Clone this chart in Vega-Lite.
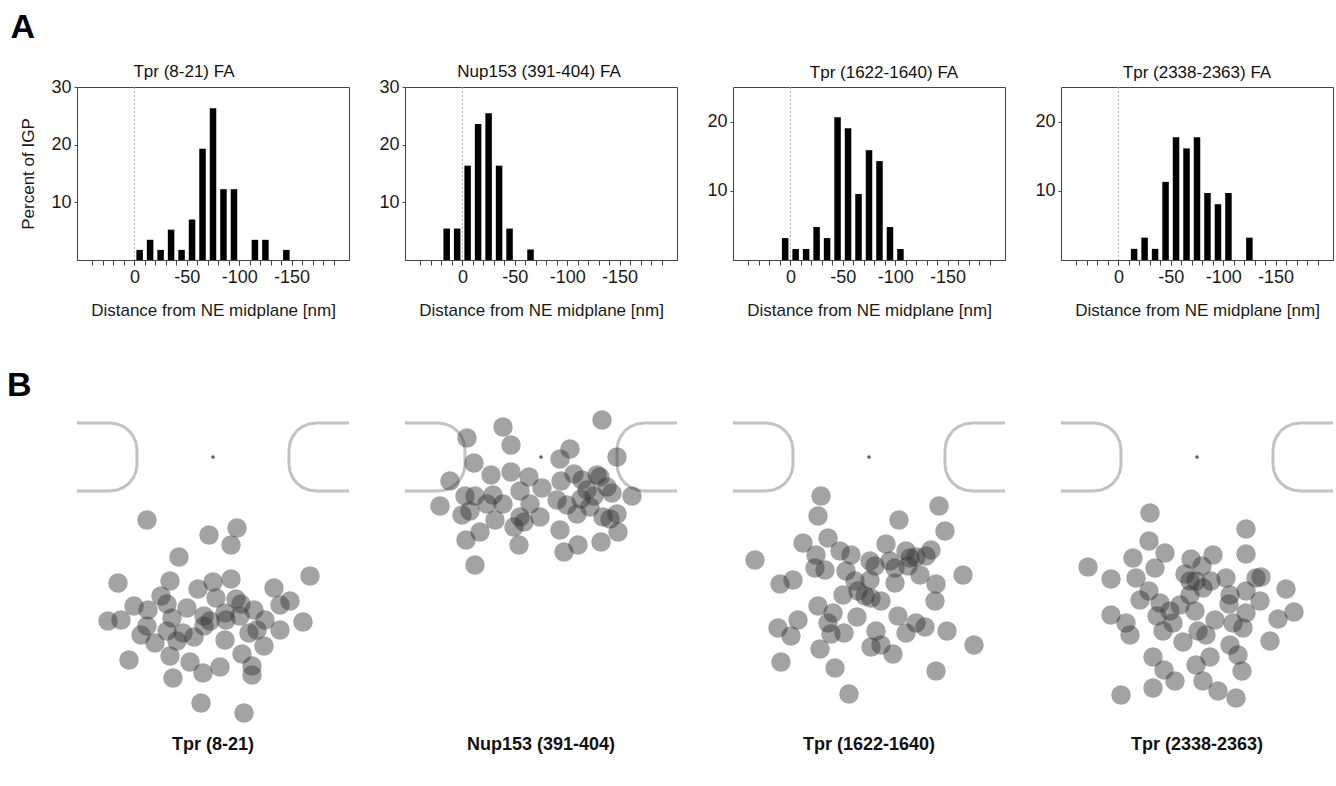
{
  "$schema": "https://vega.github.io/schema/vega-lite/v6.json",
  "padding": {"left": 7, "top": 10, "right": 0, "bottom": 0},
  "background": "white",
  "config": {
    "font": "Liberation Sans",
    "view": {"stroke": "#444", "strokeWidth": 1},
    "axis": {"grid": false, "labelFont": "Liberation Sans", "titleFont": "Liberation Sans", "labelColor": "#1a1a1a", "titleColor": "#1a1a1a", "titleFontWeight": "normal"},
    "axisX": {"labelFontSize": 18, "tickSize": 5, "labelPadding": 3, "titleFontSize": 17, "titlePadding": 16, "domainColor": "#444", "tickColor": "#444", "labelOverlap": false, "labelFlush": false},
    "axisY": {"labelFontSize": 18, "tickSize": 3, "labelPadding": 3, "domain": false, "titleFontSize": 17, "titlePadding": 12, "minExtent": 28, "maxExtent": 28, "tickColor": "#444"},
    "title": {"font": "Liberation Sans", "fontWeight": "normal", "color": "#111", "fontSize": 17}
  },
  "datasets": {
    "hist": [
      {"p": 1, "d": -5, "pct": 1.75}, {"p": 1, "d": -15, "pct": 3.5}, {"p": 1, "d": -25, "pct": 1.75}, {"p": 1, "d": -35, "pct": 5.26},
      {"p": 1, "d": -45, "pct": 1.75}, {"p": 1, "d": -55, "pct": 7.02}, {"p": 1, "d": -65, "pct": 19.3}, {"p": 1, "d": -75, "pct": 26.3},
      {"p": 1, "d": -85, "pct": 12.28}, {"p": 1, "d": -95, "pct": 12.28}, {"p": 1, "d": -115, "pct": 3.5}, {"p": 1, "d": -125, "pct": 3.5},
      {"p": 1, "d": -145, "pct": 1.75},
      {"p": 2, "d": 15, "pct": 5.45}, {"p": 2, "d": 5, "pct": 5.45}, {"p": 2, "d": -5, "pct": 16.36}, {"p": 2, "d": -15, "pct": 23.6},
      {"p": 2, "d": -25, "pct": 25.45}, {"p": 2, "d": -35, "pct": 16.36}, {"p": 2, "d": -45, "pct": 5.45}, {"p": 2, "d": -65, "pct": 1.82},
      {"p": 3, "d": 5, "pct": 3.17}, {"p": 3, "d": -5, "pct": 1.59}, {"p": 3, "d": -15, "pct": 1.59}, {"p": 3, "d": -25, "pct": 4.76},
      {"p": 3, "d": -35, "pct": 3.17}, {"p": 3, "d": -45, "pct": 20.63}, {"p": 3, "d": -55, "pct": 19.05}, {"p": 3, "d": -65, "pct": 9.52},
      {"p": 3, "d": -75, "pct": 15.87}, {"p": 3, "d": -85, "pct": 14.29}, {"p": 3, "d": -95, "pct": 4.76}, {"p": 3, "d": -105, "pct": 1.59},
      {"p": 4, "d": -15, "pct": 1.61}, {"p": 4, "d": -25, "pct": 3.23}, {"p": 4, "d": -35, "pct": 1.61}, {"p": 4, "d": -45, "pct": 11.29},
      {"p": 4, "d": -55, "pct": 17.74}, {"p": 4, "d": -65, "pct": 16.13}, {"p": 4, "d": -75, "pct": 17.74}, {"p": 4, "d": -85, "pct": 9.68},
      {"p": 4, "d": -95, "pct": 8.06}, {"p": 4, "d": -105, "pct": 9.68}, {"p": 4, "d": -125, "pct": 3.23}
    ],
    "zero": [{"x": 0}],
    "center": [{"x": 0, "y": 0}],
    "pore": [
      {"side": "L", "i": 0, "x": -136, "y": 34}, {"side": "L", "i": 1, "x": -103, "y": 34}, {"side": "L", "i": 2, "x": -96, "y": 33.1},
      {"side": "L", "i": 3, "x": -89.5, "y": 30.4}, {"side": "L", "i": 4, "x": -83.9, "y": 26.1}, {"side": "L", "i": 5, "x": -79.6, "y": 20.5},
      {"side": "L", "i": 6, "x": -76.9, "y": 14}, {"side": "L", "i": 7, "x": -76, "y": 7}, {"side": "L", "i": 8, "x": -76, "y": -7},
      {"side": "L", "i": 9, "x": -76.9, "y": -14}, {"side": "L", "i": 10, "x": -79.6, "y": -20.5}, {"side": "L", "i": 11, "x": -83.9, "y": -26.1},
      {"side": "L", "i": 12, "x": -89.5, "y": -30.4}, {"side": "L", "i": 13, "x": -96, "y": -33.1}, {"side": "L", "i": 14, "x": -103, "y": -34},
      {"side": "L", "i": 15, "x": -136, "y": -34},
      {"side": "R", "i": 0, "x": 136, "y": 34}, {"side": "R", "i": 1, "x": 103, "y": 34}, {"side": "R", "i": 2, "x": 96, "y": 33.1},
      {"side": "R", "i": 3, "x": 89.5, "y": 30.4}, {"side": "R", "i": 4, "x": 83.9, "y": 26.1}, {"side": "R", "i": 5, "x": 79.6, "y": 20.5},
      {"side": "R", "i": 6, "x": 76.9, "y": 14}, {"side": "R", "i": 7, "x": 76, "y": 7}, {"side": "R", "i": 8, "x": 76, "y": -7},
      {"side": "R", "i": 9, "x": 76.9, "y": -14}, {"side": "R", "i": 10, "x": 79.6, "y": -20.5}, {"side": "R", "i": 11, "x": 83.9, "y": -26.1},
      {"side": "R", "i": 12, "x": 89.5, "y": -30.4}, {"side": "R", "i": 13, "x": 96, "y": -33.1}, {"side": "R", "i": 14, "x": 103, "y": -34},
      {"side": "R", "i": 15, "x": 136, "y": -34}
    ],
    "pts": [
      {"p": 1, "x": -66, "y": -63}, {"p": 1, "x": -4, "y": -78}, {"p": 1, "x": 24, "y": -71}, {"p": 1, "x": 18, "y": -88},
      {"p": 1, "x": -34, "y": -100}, {"p": 1, "x": -95, "y": -126}, {"p": 1, "x": 97, "y": -119}, {"p": 1, "x": -43, "y": -124},
      {"p": 1, "x": -15, "y": -132}, {"p": 1, "x": 0, "y": -125}, {"p": 1, "x": 18, "y": -122}, {"p": 1, "x": 61, "y": -131},
      {"p": 1, "x": -52, "y": -139}, {"p": 1, "x": 3, "y": -141}, {"p": 1, "x": 23, "y": -142}, {"p": 1, "x": -79, "y": -149},
      {"p": 1, "x": -65, "y": -153}, {"p": 1, "x": -46, "y": -147}, {"p": 1, "x": -26, "y": -151}, {"p": 1, "x": 28, "y": -147},
      {"p": 1, "x": 41, "y": -153}, {"p": 1, "x": 67, "y": -148}, {"p": 1, "x": 77, "y": -144}, {"p": 1, "x": -105, "y": -164},
      {"p": 1, "x": -92, "y": -163}, {"p": 1, "x": -41, "y": -161}, {"p": 1, "x": -9, "y": -159}, {"p": 1, "x": 13, "y": -163},
      {"p": 1, "x": 52, "y": -163}, {"p": 1, "x": 90, "y": -165}, {"p": 1, "x": -72, "y": -178}, {"p": 1, "x": -46, "y": -174},
      {"p": 1, "x": -19, "y": -180}, {"p": 1, "x": 12, "y": -183}, {"p": 1, "x": 36, "y": -176}, {"p": 1, "x": 67, "y": -173},
      {"p": 1, "x": -9, "y": -169}, {"p": 1, "x": -58, "y": -186}, {"p": 1, "x": -36, "y": -184}, {"p": 1, "x": 51, "y": -189},
      {"p": 1, "x": -84, "y": -203}, {"p": 1, "x": -43, "y": -199}, {"p": 1, "x": -23, "y": -205}, {"p": 1, "x": 29, "y": -197},
      {"p": 1, "x": 7, "y": -210}, {"p": 1, "x": -10, "y": -216}, {"p": 1, "x": 39, "y": -209}, {"p": 1, "x": 39, "y": -218},
      {"p": 1, "x": -40, "y": -221}, {"p": 1, "x": -12, "y": -246}, {"p": 1, "x": 31, "y": -256}, {"p": 1, "x": 12, "y": -156},
      {"p": 1, "x": -30, "y": -176}, {"p": 1, "x": -66, "y": -169}, {"p": 1, "x": -3, "y": -164}, {"p": 1, "x": 44, "y": -173},
      {"p": 1, "x": 27, "y": -159},
      {"p": 2, "x": 61, "y": 37}, {"p": 2, "x": -38, "y": 30}, {"p": 2, "x": -30, "y": 12}, {"p": 2, "x": -74, "y": 19},
      {"p": 2, "x": -67, "y": -6}, {"p": 2, "x": 29, "y": 8}, {"p": 2, "x": 19, "y": -2}, {"p": 2, "x": 76, "y": 0},
      {"p": 2, "x": -91, "y": -24}, {"p": 2, "x": -50, "y": -18}, {"p": 2, "x": -30, "y": -15}, {"p": 2, "x": -12, "y": -20},
      {"p": 2, "x": 33, "y": -17}, {"p": 2, "x": 20, "y": -24}, {"p": 2, "x": 56, "y": -18}, {"p": 2, "x": 41, "y": -23},
      {"p": 2, "x": 59, "y": -20}, {"p": 2, "x": 1, "y": -31}, {"p": 2, "x": -21, "y": -34}, {"p": 2, "x": -48, "y": -38},
      {"p": 2, "x": -66, "y": -39}, {"p": 2, "x": -76, "y": -39}, {"p": 2, "x": -101, "y": -49}, {"p": 2, "x": 16, "y": -43},
      {"p": 2, "x": 40, "y": -42}, {"p": 2, "x": 53, "y": -39}, {"p": 2, "x": 71, "y": -36}, {"p": 2, "x": 91, "y": -39},
      {"p": 2, "x": -38, "y": -47}, {"p": 2, "x": -79, "y": -58}, {"p": 2, "x": -71, "y": -54}, {"p": 2, "x": -46, "y": -63},
      {"p": 2, "x": -21, "y": -60}, {"p": 2, "x": -1, "y": -60}, {"p": 2, "x": 36, "y": -57}, {"p": 2, "x": 49, "y": -50},
      {"p": 2, "x": 62, "y": -60}, {"p": 2, "x": 76, "y": -57}, {"p": 2, "x": -27, "y": -70}, {"p": 2, "x": -17, "y": -65},
      {"p": 2, "x": -61, "y": -75}, {"p": 2, "x": -75, "y": -83}, {"p": 2, "x": 19, "y": -73}, {"p": 2, "x": -22, "y": -88},
      {"p": 2, "x": 37, "y": -88}, {"p": 2, "x": 23, "y": -95}, {"p": 2, "x": 60, "y": -85}, {"p": 2, "x": 77, "y": -75},
      {"p": 2, "x": -66, "y": -108}, {"p": 2, "x": 69, "y": -62}, {"p": 2, "x": -54, "y": -47}, {"p": 2, "x": 46, "y": -33},
      {"p": 2, "x": 66, "y": -30}, {"p": 2, "x": 26, "y": -48}, {"p": 2, "x": -11, "y": -47},
      {"p": 3, "x": -48, "y": -39}, {"p": 3, "x": -51, "y": -59}, {"p": 3, "x": 70, "y": -49}, {"p": 3, "x": 30, "y": -63},
      {"p": 3, "x": 76, "y": -74}, {"p": 3, "x": -114, "y": -103}, {"p": 3, "x": -66, "y": -86}, {"p": 3, "x": -41, "y": -81},
      {"p": 3, "x": -53, "y": -98}, {"p": 3, "x": -29, "y": -94}, {"p": 3, "x": -18, "y": -98}, {"p": 3, "x": 1, "y": -104},
      {"p": 3, "x": 17, "y": -87}, {"p": 3, "x": 37, "y": -94}, {"p": 3, "x": 47, "y": -100}, {"p": 3, "x": 62, "y": -93},
      {"p": 3, "x": 57, "y": -99}, {"p": 3, "x": 94, "y": -118}, {"p": 3, "x": -54, "y": -111}, {"p": 3, "x": -44, "y": -113},
      {"p": 3, "x": -23, "y": -114}, {"p": 3, "x": 6, "y": -109}, {"p": 3, "x": 26, "y": -111}, {"p": 3, "x": 39, "y": -109},
      {"p": 3, "x": 51, "y": -118}, {"p": 3, "x": -89, "y": -127}, {"p": 3, "x": -76, "y": -123}, {"p": 3, "x": -14, "y": -124},
      {"p": 3, "x": 1, "y": -123}, {"p": 3, "x": 26, "y": -126}, {"p": 3, "x": 67, "y": -127}, {"p": 3, "x": -26, "y": -138},
      {"p": 3, "x": -4, "y": -139}, {"p": 3, "x": 12, "y": -144}, {"p": 3, "x": 66, "y": -144}, {"p": 3, "x": -51, "y": -149},
      {"p": 3, "x": -36, "y": -156}, {"p": 3, "x": -12, "y": -160}, {"p": 3, "x": 29, "y": -159}, {"p": 3, "x": 47, "y": -166},
      {"p": 3, "x": 56, "y": -170}, {"p": 3, "x": -71, "y": -163}, {"p": 3, "x": -91, "y": -171}, {"p": 3, "x": -78, "y": -179},
      {"p": 3, "x": -41, "y": -166}, {"p": 3, "x": -38, "y": -177}, {"p": 3, "x": -25, "y": -176}, {"p": 3, "x": 7, "y": -174},
      {"p": 3, "x": 37, "y": -176}, {"p": 3, "x": 78, "y": -174}, {"p": 3, "x": -49, "y": -192}, {"p": 3, "x": 2, "y": -190},
      {"p": 3, "x": 12, "y": -188}, {"p": 3, "x": 24, "y": -197}, {"p": 3, "x": 105, "y": -188}, {"p": 3, "x": -88, "y": -205},
      {"p": 3, "x": -34, "y": -211}, {"p": 3, "x": 67, "y": -214}, {"p": 3, "x": -20, "y": -237}, {"p": 3, "x": 2, "y": -141},
      {"p": 3, "x": 41, "y": -101}, {"p": 3, "x": 21, "y": -104}, {"p": 3, "x": -11, "y": -134},
      {"p": 4, "x": -47, "y": -56}, {"p": 4, "x": 49, "y": -72}, {"p": 4, "x": -48, "y": -84}, {"p": 4, "x": -32, "y": -96},
      {"p": 4, "x": -64, "y": -101}, {"p": 4, "x": 16, "y": -98}, {"p": 4, "x": 49, "y": -97}, {"p": 4, "x": -109, "y": -110},
      {"p": 4, "x": -86, "y": -122}, {"p": 4, "x": -42, "y": -111}, {"p": 4, "x": -61, "y": -121}, {"p": 4, "x": -6, "y": -102},
      {"p": 4, "x": -12, "y": -117}, {"p": 4, "x": 5, "y": -109}, {"p": 4, "x": -1, "y": -124}, {"p": 4, "x": 14, "y": -124},
      {"p": 4, "x": 6, "y": -131}, {"p": 4, "x": 29, "y": -121}, {"p": 4, "x": 64, "y": -120}, {"p": 4, "x": 89, "y": -132},
      {"p": 4, "x": -48, "y": -134}, {"p": 4, "x": -57, "y": -143}, {"p": 4, "x": -7, "y": -138}, {"p": 4, "x": 49, "y": -134},
      {"p": 4, "x": 63, "y": -144}, {"p": 4, "x": 32, "y": -147}, {"p": 4, "x": 49, "y": -156}, {"p": 4, "x": -27, "y": -154},
      {"p": 4, "x": -40, "y": -159}, {"p": 4, "x": -17, "y": -148}, {"p": 4, "x": -2, "y": -154}, {"p": 4, "x": -86, "y": -158},
      {"p": 4, "x": -71, "y": -166}, {"p": 4, "x": 81, "y": -162}, {"p": 4, "x": 97, "y": -155}, {"p": 4, "x": -24, "y": -166},
      {"p": 4, "x": -34, "y": -174}, {"p": 4, "x": -67, "y": -178}, {"p": 4, "x": 18, "y": -163}, {"p": 4, "x": 36, "y": -166},
      {"p": 4, "x": 46, "y": -171}, {"p": 4, "x": 1, "y": -174}, {"p": 4, "x": 9, "y": -178}, {"p": 4, "x": -14, "y": -185},
      {"p": 4, "x": 73, "y": -184}, {"p": 4, "x": 33, "y": -188}, {"p": 4, "x": -44, "y": -200}, {"p": 4, "x": 13, "y": -200},
      {"p": 4, "x": -1, "y": -208}, {"p": 4, "x": 41, "y": -198}, {"p": 4, "x": -33, "y": -213}, {"p": 4, "x": 45, "y": -214},
      {"p": 4, "x": -22, "y": -224}, {"p": 4, "x": 6, "y": -224}, {"p": 4, "x": -44, "y": -231}, {"p": 4, "x": 21, "y": -234},
      {"p": 4, "x": 39, "y": -241}, {"p": 4, "x": -76, "y": -238}, {"p": 4, "x": -7, "y": -124}, {"p": 4, "x": -37, "y": -146},
      {"p": 4, "x": 33, "y": -138}, {"p": 4, "x": 59, "y": -121}
    ]
  },
  "spacing": 50,
  "vconcat": [
    {
      "title": {"text": "A", "anchor": "start", "fontSize": 34, "fontWeight": "bold", "color": "#000", "offset": 18, "dx": -8},
      "spacing": 26,
      "hconcat": [
        {
          "width": 272, "height": 173,
          "title": {"text": "Tpr (8-21) FA", "frame": "bounds", "offset": -3},
          "resolve": {"axis": {"x": "independent"}},
          "layer": [
            {"data": {"name": "zero"}, "mark": {"type": "rule", "color": "#aaa", "strokeDash": [2, 2], "strokeWidth": 1},
             "encoding": {"x": {"field": "x", "type": "quantitative",
               "axis": {"orient": "bottom", "title": null, "labels": false, "values": [-190,-180,-170,-160,-150,-140,-130,-120,-110,-100,-90,-80,-70,-60,-50,-40,-30,-20,-10,0,10,20,30,40]}}}},
            {"data": {"name": "hist"}, "transform": [{"filter": "datum.p == 1"}],
             "mark": {"type": "bar", "color": "#000", "size": 6.5},
             "encoding": {
               "x": {"field": "d", "type": "quantitative", "scale": {"domain": [-200, 50], "reverse": true, "nice": false, "zero": false},
                     "axis": {"orient": "bottom", "title": "Distance from NE midplane [nm]", "domain": false, "values": [-150, -100, -50, 0], "labelExpr": "'' + datum.value"}},
               "y": {"field": "pct", "type": "quantitative", "scale": {"domain": [0, 30], "nice": false},
                     "axis": {"title": "Percent of IGP", "values": [10, 20, 30]}}
             }}
          ]
        },
        {
          "width": 272, "height": 173,
          "title": {"text": "Nup153 (391-404) FA", "offset": -3, "dx": -2},
          "resolve": {"axis": {"x": "independent"}},
          "layer": [
            {"data": {"name": "zero"}, "mark": {"type": "rule", "color": "#aaa", "strokeDash": [2, 2], "strokeWidth": 1},
             "encoding": {"x": {"field": "x", "type": "quantitative",
               "axis": {"orient": "bottom", "title": null, "labels": false, "values": [-190,-180,-170,-160,-150,-140,-130,-120,-110,-100,-90,-80,-70,-60,-50,-40,-30,-20,-10,0,10,20,30,40]}}}},
            {"data": {"name": "hist"}, "transform": [{"filter": "datum.p == 2"}],
             "mark": {"type": "bar", "color": "#000", "size": 6.5},
             "encoding": {
               "x": {"field": "d", "type": "quantitative", "scale": {"domain": [-200, 50], "reverse": true, "nice": false, "zero": false},
                     "axis": {"orient": "bottom", "title": "Distance from NE midplane [nm]", "domain": false, "values": [-150, -100, -50, 0], "labelExpr": "'' + datum.value"}},
               "y": {"field": "pct", "type": "quantitative", "scale": {"domain": [0, 30], "nice": false},
                     "axis": {"title": null, "values": [10, 20, 30]}}
             }}
          ]
        },
        {
          "width": 272, "height": 173,
          "title": {"text": "Tpr (1622-1640) FA", "offset": 5, "dx": 15},
          "resolve": {"axis": {"x": "independent"}},
          "layer": [
            {"data": {"name": "zero"}, "mark": {"type": "rule", "color": "#aaa", "strokeDash": [2, 2], "strokeWidth": 1},
             "encoding": {"x": {"field": "x", "type": "quantitative",
               "axis": {"orient": "bottom", "title": null, "labels": false, "values": [-190,-180,-170,-160,-150,-140,-130,-120,-110,-100,-90,-80,-70,-60,-50,-40,-30,-20,-10,0,10,20,30,40]}}}},
            {"data": {"name": "hist"}, "transform": [{"filter": "datum.p == 3"}],
             "mark": {"type": "bar", "color": "#000", "size": 6.5},
             "encoding": {
               "x": {"field": "d", "type": "quantitative", "scale": {"domain": [-200, 50], "reverse": true, "nice": false, "zero": false},
                     "axis": {"orient": "bottom", "title": "Distance from NE midplane [nm]", "domain": false, "values": [-150, -100, -50, 0], "labelExpr": "'' + datum.value"}},
               "y": {"field": "pct", "type": "quantitative", "scale": {"domain": [0, 25], "nice": false},
                     "axis": {"title": null, "values": [10, 20]}}
             }}
          ]
        },
        {
          "width": 272, "height": 173,
          "title": {"text": "Tpr (2338-2363) FA", "offset": 5},
          "resolve": {"axis": {"x": "independent"}},
          "layer": [
            {"data": {"name": "zero"}, "mark": {"type": "rule", "color": "#aaa", "strokeDash": [2, 2], "strokeWidth": 1},
             "encoding": {"x": {"field": "x", "type": "quantitative",
               "axis": {"orient": "bottom", "title": null, "labels": false, "values": [-190,-180,-170,-160,-150,-140,-130,-120,-110,-100,-90,-80,-70,-60,-50,-40,-30,-20,-10,0,10,20,30,40]}}}},
            {"data": {"name": "hist"}, "transform": [{"filter": "datum.p == 4"}],
             "mark": {"type": "bar", "color": "#000", "size": 6.5},
             "encoding": {
               "x": {"field": "d", "type": "quantitative", "scale": {"domain": [-200, 50], "reverse": true, "nice": false, "zero": false},
                     "axis": {"orient": "bottom", "title": "Distance from NE midplane [nm]", "domain": false, "values": [-150, -100, -50, 0], "labelExpr": "'' + datum.value"}},
               "y": {"field": "pct", "type": "quantitative", "scale": {"domain": [0, 25], "nice": false},
                     "axis": {"title": null, "values": [10, 20]}}
             }}
          ]
        }
      ]
    },
    {
      "title": {"text": "B", "anchor": "start", "fontSize": 34, "fontWeight": "bold", "color": "#000", "offset": -3, "dx": -64},
      "spacing": 44,
      "hconcat": [
        {
          "width": 272, "height": 330, "view": {"stroke": null},
          "title": {"text": "Tpr (8-21)", "orient": "bottom", "fontSize": 18, "fontWeight": "bold", "offset": 6},
          "layer": [
            {"data": {"name": "pore"}, "mark": {"type": "line", "color": "#c2c2c2", "strokeWidth": 3},
             "encoding": {
               "x": {"field": "x", "type": "quantitative", "scale": {"domain": [-136, 136], "nice": false, "zero": false}, "axis": null},
               "y": {"field": "y", "type": "quantitative", "scale": {"domain": [-273, 57], "nice": false, "zero": false},
                     "axis": {"title": "[non-normalized IGP positions]", "labels": false, "ticks": false, "domain": false, "minExtent": 0, "maxExtent": 0, "titlePadding": 40, "titleY": 187}},
               "detail": {"field": "side"}, "order": {"field": "i"}}},
            {"data": {"name": "center"}, "mark": {"type": "circle", "size": 14, "color": "#666", "opacity": 1},
             "encoding": {"x": {"field": "x", "type": "quantitative", "axis": null}, "y": {"field": "y", "type": "quantitative", "axis": null}}},
            {"data": {"name": "pts"}, "transform": [{"filter": "datum.p == 1"}], "mark": {"type": "circle", "size": 380, "color": "#333", "opacity": 0.45},
             "encoding": {"x": {"field": "x", "type": "quantitative", "axis": null}, "y": {"field": "y", "type": "quantitative", "axis": null}}}
          ]
        },
        {
          "width": 272, "height": 330, "view": {"stroke": null},
          "title": {"text": "Nup153 (391-404)", "orient": "bottom", "fontSize": 18, "fontWeight": "bold", "offset": 6},
          "layer": [
            {"data": {"name": "pore"}, "mark": {"type": "line", "color": "#c2c2c2", "strokeWidth": 3},
             "encoding": {
               "x": {"field": "x", "type": "quantitative", "scale": {"domain": [-136, 136], "nice": false, "zero": false}, "axis": null},
               "y": {"field": "y", "type": "quantitative", "scale": {"domain": [-273, 57], "nice": false, "zero": false}, "axis": null},
               "detail": {"field": "side"}, "order": {"field": "i"}}},
            {"data": {"name": "center"}, "mark": {"type": "circle", "size": 14, "color": "#666", "opacity": 1},
             "encoding": {"x": {"field": "x", "type": "quantitative", "axis": null}, "y": {"field": "y", "type": "quantitative", "axis": null}}},
            {"data": {"name": "pts"}, "transform": [{"filter": "datum.p == 2"}], "mark": {"type": "circle", "size": 380, "color": "#333", "opacity": 0.45},
             "encoding": {"x": {"field": "x", "type": "quantitative", "axis": null}, "y": {"field": "y", "type": "quantitative", "axis": null}}}
          ]
        },
        {
          "width": 272, "height": 330, "view": {"stroke": null},
          "title": {"text": "Tpr (1622-1640)", "orient": "bottom", "fontSize": 18, "fontWeight": "bold", "offset": 6},
          "layer": [
            {"data": {"name": "pore"}, "mark": {"type": "line", "color": "#c2c2c2", "strokeWidth": 3},
             "encoding": {
               "x": {"field": "x", "type": "quantitative", "scale": {"domain": [-136, 136], "nice": false, "zero": false}, "axis": null},
               "y": {"field": "y", "type": "quantitative", "scale": {"domain": [-273, 57], "nice": false, "zero": false}, "axis": null},
               "detail": {"field": "side"}, "order": {"field": "i"}}},
            {"data": {"name": "center"}, "mark": {"type": "circle", "size": 14, "color": "#666", "opacity": 1},
             "encoding": {"x": {"field": "x", "type": "quantitative", "axis": null}, "y": {"field": "y", "type": "quantitative", "axis": null}}},
            {"data": {"name": "pts"}, "transform": [{"filter": "datum.p == 3"}], "mark": {"type": "circle", "size": 380, "color": "#333", "opacity": 0.45},
             "encoding": {"x": {"field": "x", "type": "quantitative", "axis": null}, "y": {"field": "y", "type": "quantitative", "axis": null}}}
          ]
        },
        {
          "width": 272, "height": 330, "view": {"stroke": null},
          "title": {"text": "Tpr (2338-2363)", "orient": "bottom", "fontSize": 18, "fontWeight": "bold", "offset": 6},
          "layer": [
            {"data": {"name": "pore"}, "mark": {"type": "line", "color": "#c2c2c2", "strokeWidth": 3},
             "encoding": {
               "x": {"field": "x", "type": "quantitative", "scale": {"domain": [-136, 136], "nice": false, "zero": false}, "axis": null},
               "y": {"field": "y", "type": "quantitative", "scale": {"domain": [-273, 57], "nice": false, "zero": false}, "axis": null},
               "detail": {"field": "side"}, "order": {"field": "i"}}},
            {"data": {"name": "center"}, "mark": {"type": "circle", "size": 14, "color": "#666", "opacity": 1},
             "encoding": {"x": {"field": "x", "type": "quantitative", "axis": null}, "y": {"field": "y", "type": "quantitative", "axis": null}}},
            {"data": {"name": "pts"}, "transform": [{"filter": "datum.p == 4"}], "mark": {"type": "circle", "size": 380, "color": "#333", "opacity": 0.45},
             "encoding": {"x": {"field": "x", "type": "quantitative", "axis": null}, "y": {"field": "y", "type": "quantitative", "axis": null}}}
          ]
        }
      ]
    }
  ]
}
